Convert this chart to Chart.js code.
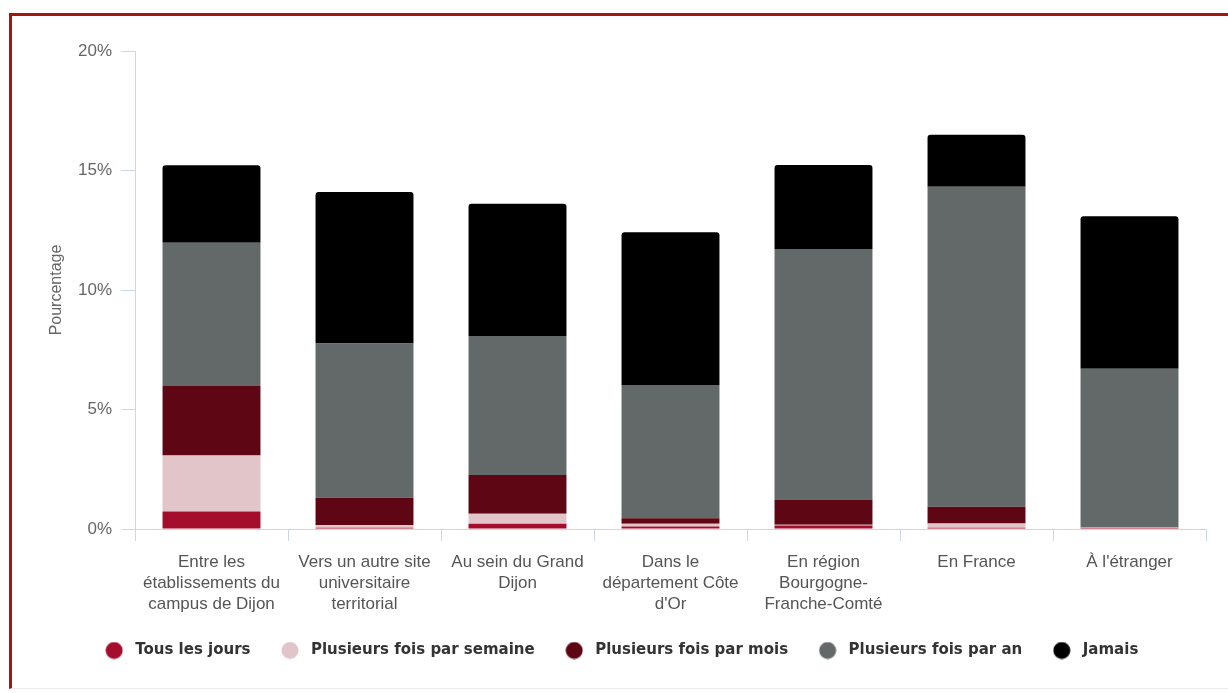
<!DOCTYPE html>
<html lang="fr">
<head>
<meta charset="utf-8">
<title>Fréquence des déplacements</title>
<script src="https://cdn.jsdelivr.net/npm/chart.js@4.4.1/dist/chart.umd.min.js"></script>
<style>
  html, body { margin: 0; padding: 0; background: #ffffff; }
  #frame {
    position: absolute; left: 9px; top: 13px; width: 1240px; height: 676px;
    border-left: 3px solid #a3180d; border-top: 3px solid #a3180d;
    border-bottom: 1px solid #ececec;
    box-sizing: border-box;
  }
  #wrap { position: absolute; left: 0; top: 0; width: 1228px; height: 693px; }
</style>
</head>
<body>
<div id="frame"></div>
<div id="wrap"><canvas id="chart" width="1228" height="693"></canvas></div>
<script>
// Catégories (libellés sur plusieurs lignes)
const categories = [
  ["Entre les", "établissements du", "campus de Dijon"],
  ["Vers un autre site", "universitaire", "territorial"],
  ["Au sein du Grand", "Dijon"],
  ["Dans le", "département Côte", "d'Or"],
  ["En région", "Bourgogne-", "Franche-Comté"],
  ["En France"],
  ["À l'étranger"]
];

// Pourcentages par fréquence
const tousLesJours       = [0.73, 0.05, 0.22, 0.10, 0.15, 0.05, 0.04];
const plusieursSemaine   = [2.35, 0.12, 0.42, 0.12, 0.03, 0.18, 0.02];
const plusieursMois      = [2.90, 1.14, 1.62, 0.23, 1.03, 0.70, 0.02];
const plusieursAn        = [6.00, 6.45, 5.82, 5.58, 10.51, 13.39, 6.63];
const jamais             = [3.24, 6.34, 5.53, 6.39, 3.51, 2.18, 6.38];

const seriesNames = [
  "Tous les jours",
  "Plusieurs fois par semaine",
  "Plusieurs fois par mois",
  "Plusieurs fois par an",
  "Jamais"
];

const yTicks = [0, 5, 10, 15, 20];

const colors = ["#a50d2d", "#e2c5c8", "#5e0614", "#636868", "#000000"];
const seriesData = [tousLesJours, plusieursSemaine, plusieursMois, plusieursAn, jamais];

const axisColor = "#ccd6eb";
const textFont = "'Liberation Sans', Arial, sans-serif";

// Pastille ronde utilisée comme symbole de légende
function dot(color) {
  const c = document.createElement("canvas");
  c.width = 18; c.height = 18;
  const g = c.getContext("2d");
  g.fillStyle = color;
  g.beginPath();
  g.arc(9, 9, 8.5, 0, Math.PI * 2);
  g.fill();
  return c;
}
const dots = colors.map(dot);

new Chart(document.getElementById("chart"), {
  type: "bar",
  data: {
    labels: categories,
    datasets: seriesNames.map((name, i) => ({
      label: name,
      data: seriesData[i],
      backgroundColor: colors[i],
      borderWidth: 0,
      borderRadius: 3,
      categoryPercentage: 1,
      barPercentage: 0.64
    }))
  },
  options: {
    responsive: false,
    animation: false,
    layout: { padding: { left: 33, right: 22, top: 51, bottom: 25 } },
    scales: {
      x: {
        stacked: true,
        grid: {
          offset: true,
          drawOnChartArea: false,
          drawTicks: true,
          tickLength: 12,
          color: axisColor
        },
        border: { display: true, color: axisColor, width: 1 },
        ticks: {
          color: "#555555",
          padding: 11,
          maxRotation: 0,
          autoSkip: false,
          font: { family: textFont, size: 17, lineHeight: "21px" }
        },
        afterFit: (scale) => { scale.height = 88; }
      },
      y: {
        stacked: true,
        min: 0,
        max: 20,
        afterBuildTicks: (scale) => { scale.ticks = yTicks.map(v => ({ value: v })); },
        grid: {
          drawOnChartArea: false,
          drawTicks: true,
          tickLength: 14,
          color: axisColor
        },
        border: { display: true, color: axisColor, width: 1 },
        ticks: {
          color: "#666666",
          padding: 9,
          callback: (v) => v + "%",
          font: { family: textFont, size: 17 }
        },
        title: {
          display: true,
          text: "Pourcentage",
          color: "#666666",
          padding: { top: 14, bottom: 0 },
          font: { family: textFont, size: 16 }
        },
        afterFit: (scale) => { scale.width = 102; }
      }
    },
    plugins: {
      tooltip: { enabled: false },
      legend: {
        position: "bottom",
        labels: {
          usePointStyle: true,
          boxHeight: 12,
          pointStyleWidth: 27,
          padding: 26,
          color: "#333333",
          font: { family: "'DejaVu Sans', sans-serif", size: 15, weight: "bold" },
          generateLabels: (chart) => {
            const items = Chart.defaults.plugins.legend.labels.generateLabels(chart);
            items.forEach((it, i) => { it.pointStyle = dots[i]; });
            return items;
          }
        }
      }
    }
  }
});
</script>
</body>
</html>
